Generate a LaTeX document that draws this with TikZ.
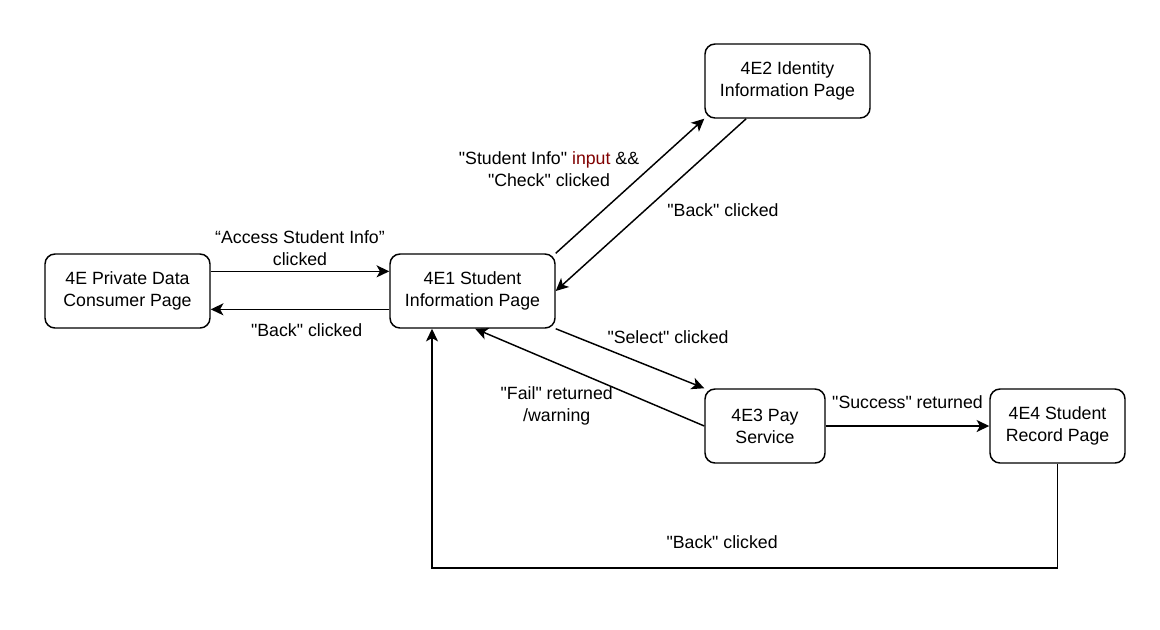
\documentclass[tikz,border=0pt]{standalone}
\usepackage{fontspec}
\setmainfont{Liberation Sans}[Ligatures=TeXOff]
\definecolor{inputred}{RGB}{128,0,0}
\usetikzlibrary{arrows.meta,positioning}
\tikzset{
    pagebox/.style={draw, rounded corners=7.5pt, line width=1.1pt, align=center, minimum width=123.75pt, minimum height=55.5pt, inner sep=0pt, fill=white},
    smallbox/.style={pagebox, minimum width=90pt},
    recordbox/.style={pagebox, minimum width=101.25pt},
    flowarrow/.style={-{Stealth[length=9.5pt, width=9pt, inset=2.5pt]}, line width=1.1pt},
    flowlabel/.style={align=center, text=black}
}

\begin{document}
\begin{tikzpicture}[x=0.75pt, y=-0.75pt, font=\fontsize{13.3}{16.5}\selectfont]
    \useasboundingbox (0,0) rectangle (1160,629);

    \node[pagebox] (consumer) at (127.5,291) {4E Private Data\\Consumer Page};
    \node[pagebox] (studentinfo) at (472.5,291) {4E1 Student\\Information Page};
    \node[pagebox] (identity) at (787.5,81) {4E2 Identity\\Information Page};
    \node[smallbox] (payservice) at (765,426) {4E3 Pay\\Service};
    \node[recordbox] (record) at (1057.5,426) {4E4 Student\\Record Page};
    \coordinate (backturn) at (432,568);

    \draw[flowarrow] ([yshift=14.75pt]consumer.east) -- node[flowlabel, above] {“Access Student Info”\\clicked} ([yshift=14.75pt]studentinfo.west);
    \draw[flowarrow] ([yshift=-13.75pt]studentinfo.west) -- node[flowlabel, below, xshift=5pt, yshift=-7pt] {"Back" clicked} ([yshift=-13.75pt]consumer.east);
    \draw[flowarrow] (studentinfo.north east) -- node[flowlabel, xshift=-60.75pt, yshift=13pt] {"Student Info" \textcolor{inputred}{input} \&\&\\"Check" clicked} (identity.south west);
    \draw[flowarrow] ([xshift=-31pt]identity.south) -- node[flowlabel, xshift=54pt, yshift=-3.75pt] {"Back" clicked} (studentinfo.east);
    \draw[flowarrow] (studentinfo.south east) -- node[flowlabel, xshift=28.5pt, yshift=16pt] {"Select" clicked} (payservice.north west);
    \draw[flowarrow] (payservice.west) -- node[flowlabel, xshift=-24.75pt, yshift=-21.5pt] {"Fail" returned\\/warning} ([xshift=2pt]studentinfo.south);
    \draw[flowarrow] (payservice.east) -- node[flowlabel, above, yshift=9pt] {"Success" returned} (record.west);
    \draw[flowarrow] (record.south) -- (record.south |- backturn) -- node[flowlabel, above, xshift=-17pt, yshift=10.5pt] {"Back" clicked} (backturn) -- (studentinfo.south -| backturn);
\end{tikzpicture}
\end{document}
